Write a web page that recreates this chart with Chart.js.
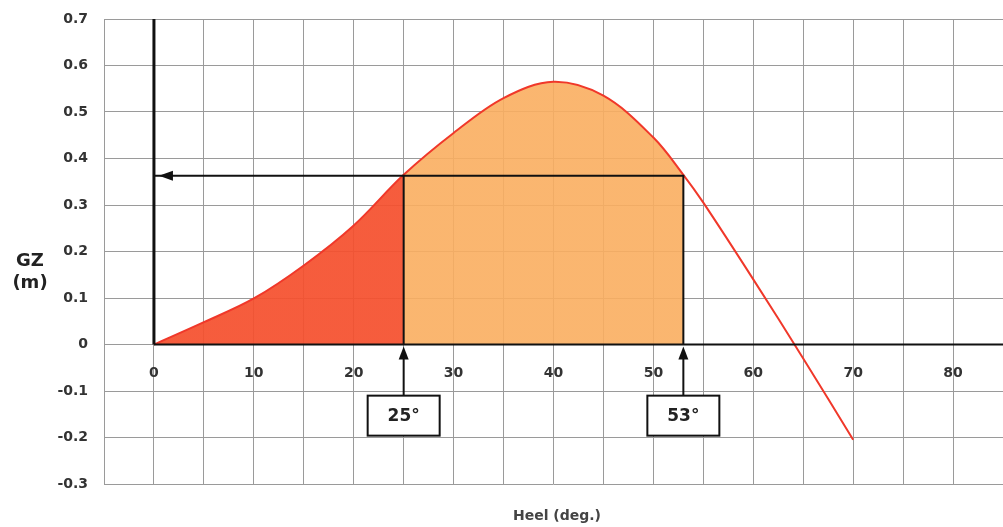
<!DOCTYPE html>
<html>
<head>
<meta charset="utf-8">
<title>GZ curve</title>
<script src="https://cdn.jsdelivr.net/npm/chart.js"></script>
<style>
  html, body { margin: 0; padding: 0; background: #fff; }
</style>
</head>
<body>
<canvas id="gzChart" width="1003" height="527"></canvas>
<script>
// GZ curve data (heel in degrees, GZ in metres)
const heel = [0, 5, 10, 15, 20, 25, 30, 35, 40, 45, 50, 53, 55, 60, 65, 70];
const gz = [0, 0.048, 0.099, 0.17, 0.256, 0.365, 0.455, 0.53, 0.565, 0.535, 0.445, 0.365, 0.305, 0.14, -0.03, -0.205];

// marked angles and the GZ level between them
const markAngles = [25, 53];
const markGz = 0.363;
const boxGz = -0.153;

const xTicks = [0, 10, 20, 30, 40, 50, 60, 70, 80];

const RED = 'rgba(245, 80, 46, 0.93)';
const ORANGE = 'rgba(250, 174, 96, 0.9)';
const FONT = "'DejaVu Sans', Verdana, sans-serif";

const curvePoints = heel.map((h, i) => ({ x: h, y: gz[i] }));

// fill colour changes at the marked angles
function areaFill(context) {
    const chart = context.chart;
    const area = chart.chartArea;
    if (!area) return null;
    const xs = chart.scales.x;
    const w = area.right - area.left;
    const f1 = (xs.getPixelForValue(markAngles[0]) - area.left) / w;
    const f2 = (xs.getPixelForValue(markAngles[1]) - area.left) / w;
    const g = chart.ctx.createLinearGradient(area.left, 0, area.right, 0);
    g.addColorStop(0, RED);
    g.addColorStop(f1, RED);
    g.addColorStop(f1, ORANGE);
    g.addColorStop(f2, ORANGE);
    g.addColorStop(f2, 'rgba(255,255,255,0)');
    g.addColorStop(1, 'rgba(255,255,255,0)');
    return g;
}

function noPadding(scale) {
    scale.paddingLeft = 0;
    scale.paddingRight = 0;
    scale.paddingTop = 0;
    scale.paddingBottom = 0;
}

// arrows, angle boxes and axis titles
const annotations = {
    id: 'annotations',
    afterDatasetsDraw(chart) {
        const ctx = chart.ctx;
        const xs = chart.scales.x;
        const ys = chart.scales.y;
        const y0 = ys.getPixelForValue(0);
        const yBox = ys.getPixelForValue(boxGz);
        ctx.save();
        ctx.fillStyle = '#111';
        ctx.strokeStyle = '#111';

        // arrow head pointing left at x = 0
        const ax = xs.getPixelForValue(0) + 5;
        const ay = ys.getPixelForValue(markGz);
        ctx.beginPath();
        ctx.moveTo(ax, ay);
        ctx.lineTo(ax + 14, ay - 5);
        ctx.lineTo(ax + 14, ay + 5);
        ctx.closePath();
        ctx.fill();

        markAngles.forEach(a => {
            const px = xs.getPixelForValue(a);
            const boxTop = yBox - 20;
            // shaft
            ctx.lineWidth = 2;
            ctx.beginPath();
            ctx.moveTo(px, boxTop);
            ctx.lineTo(px, y0 + 10);
            ctx.stroke();
            // head
            ctx.beginPath();
            ctx.moveTo(px, y0 + 2);
            ctx.lineTo(px - 5, y0 + 15);
            ctx.lineTo(px + 5, y0 + 15);
            ctx.closePath();
            ctx.fill();
            // box
            ctx.fillStyle = '#fff';
            ctx.fillRect(px - 36, boxTop, 72, 40);
            ctx.lineWidth = 2;
            ctx.strokeRect(px - 36, boxTop, 72, 40);
            ctx.font = 'bold 17px ' + FONT;
            ctx.fillStyle = '#222';
            ctx.textAlign = 'center';
            ctx.textBaseline = 'middle';
            ctx.fillText(a + '°', px, yBox + 1);
            ctx.fillStyle = '#111';
        });

        // y title
        ctx.fillStyle = '#222';
        ctx.font = 'bold 18px ' + FONT;
        ctx.textAlign = 'center';
        ctx.textBaseline = 'middle';
        ctx.fillText('GZ', 30, 261);
        ctx.fillText('(m)', 30, 283);

        // x title
        ctx.font = 'bold 14px ' + FONT;
        ctx.fillStyle = '#444';
        ctx.fillText('Heel (deg.)', 557, 516);
        ctx.restore();
    }
};

const gzChart = document.getElementById('gzChart').getContext('2d');
new Chart(gzChart, {
    type: 'line',
    data: {
        datasets: [
            {
                label: 'GZ',
                data: curvePoints,
                borderColor: '#f0382a',
                borderWidth: 2,
                backgroundColor: areaFill,
                fill: 'origin',
                pointRadius: 0,
                tension: 0.35,
                order: 1
            },
            {
                label: 'zero line',
                data: [{ x: 0, y: 0 }, { x: 85, y: 0 }],
                borderColor: '#111',
                borderWidth: 2,
                pointRadius: 0,
                order: 0
            },
            {
                label: 'y axis',
                data: [{ x: 0, y: 0 }, { x: 0, y: 0.7 }],
                borderColor: '#111',
                borderWidth: 3,
                pointRadius: 0,
                order: 0
            },
            {
                label: 'range',
                data: [
                    { x: markAngles[0], y: 0 },
                    { x: markAngles[0], y: markGz },
                    { x: markAngles[1], y: markGz },
                    { x: markAngles[1], y: 0 }
                ],
                borderColor: '#111',
                borderWidth: 2,
                pointRadius: 0,
                order: 0
            },
            {
                label: 'arrow',
                data: [{ x: 0, y: markGz }, { x: markAngles[0], y: markGz }],
                borderColor: '#111',
                borderWidth: 2,
                pointRadius: 0,
                order: 0
            }
        ]
    },
    options: {
        responsive: false,
        animation: false,
        layout: { padding: { top: 19, bottom: 43, left: 0, right: 0 } },
        plugins: {
            legend: { display: false },
            tooltip: { enabled: false }
        },
        scales: {
            x: {
                type: 'linear',
                position: { y: 0 },
                min: -5,
                max: 85,
                border: { display: false },
                grid: { color: '#9a9a9a', lineWidth: 1, drawTicks: false },
                afterFit: noPadding,
                ticks: {
                    stepSize: 5,
                    autoSkip: false,
                    maxRotation: 0,
                    padding: 20,
                    color: '#333',
                    font: { family: FONT, size: 14, weight: 'bold' },
                    callback: v => xTicks.includes(v) ? String(v) : ''
                }
            },
            y: {
                type: 'linear',
                min: -0.3,
                max: 0.7,
                border: { display: false },
                grid: { color: '#9a9a9a', lineWidth: 1, drawTicks: false },
                afterFit: scale => { noPadding(scale); scale.width = 104; },
                ticks: {
                    stepSize: 0.1,
                    padding: 16,
                    color: '#333',
                    font: { family: FONT, size: 14, weight: 'bold' },
                    callback: v => {
                        const r = Math.round(v * 10) / 10;
                        return r === 0 ? '0' : r.toFixed(1);
                    }
                }
            }
        }
    },
    plugins: [annotations]
});
</script>
</body>
</html>
